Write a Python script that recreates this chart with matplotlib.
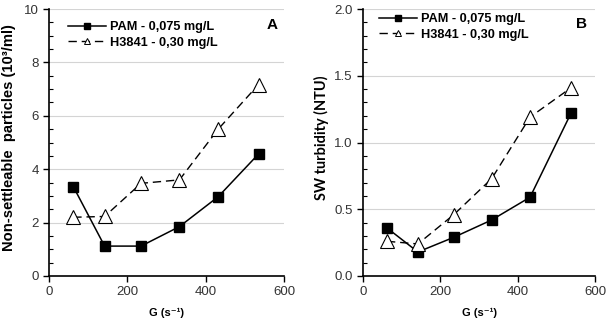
import matplotlib
matplotlib.use("Agg")
import matplotlib.pyplot as plt
from matplotlib.ticker import MultipleLocator

plt.rcParams['font.family'] = ['Liberation Sans', 'DejaVu Sans']

G_A = [62, 142, 235, 333, 432, 535]
pam_A = [3.35, 1.12, 1.12, 1.85, 2.97, 4.57]
h_A = [2.2, 2.23, 3.47, 3.6, 5.5, 7.17]

G_B = [62, 142, 235, 333, 432, 538]
pam_B = [0.36, 0.18, 0.29, 0.42, 0.59, 1.22]
h_B = [0.26, 0.24, 0.46, 0.73, 1.19, 1.41]

labels = ["PAM - 0,075 mg/L", "H3841 - 0,30 mg/L"]

W, H = 609, 321
fig = plt.figure(figsize=(W/100, H/100), dpi=100)
axA = fig.add_axes([49/W, 1-276/H, 235/W, 267/H])
axB = fig.add_axes([363/W, 1-276/H, 232/W, 267/H])

def style(ax, ymax, ymaj, ymin, fmt, letter, lpos, legpos):
    ax.set_xlim(0, 600)
    ax.set_ylim(0, ymax)
    ax.xaxis.set_major_locator(MultipleLocator(200))
    ax.yaxis.set_major_locator(MultipleLocator(ymaj))
    ax.yaxis.set_minor_locator(MultipleLocator(ymin))
    ax.yaxis.set_major_formatter(fmt)
    ax.grid(axis='y', which='major', color='#d4d4d4', linewidth=0.8)
    ax.set_axisbelow(True)
    for s in ['top', 'right']:
        ax.spines[s].set_visible(False)
    for s in ['left', 'bottom']:
        ax.spines[s].set_linewidth(1.2)
    ax.tick_params(axis='both', which='major', direction='out', length=4, width=1,
                   labelsize=9.5, labelcolor='#333333')
    ax.tick_params(axis='y', which='minor', direction='in', length=3, width=0.8)
    ax.text(lpos[0], lpos[1], letter, transform=ax.transAxes, ha='right', va='top',
            fontsize=11, fontweight='bold')
    leg = ax.legend(loc='upper left', bbox_to_anchor=legpos, frameon=False, fontsize=9.2,
                    handlelength=3.0, handletextpad=0.3, borderaxespad=0,
                    borderpad=0, labelspacing=0.3)
    hs = leg.legend_handles
    hs[0].set_markersize(4.5)
    hs[1].set_markersize(4.5)
    hs[1].set_markeredgewidth(0.7)
    for t in leg.get_texts():
        t.set_fontweight('bold')

for ax, G, p, h in [(axA, G_A, pam_A, h_A), (axB, G_B, pam_B, h_B)]:
    ax.plot(G, p, color='black', linewidth=1.1, marker='s', markersize=6.5,
            markerfacecolor='black', label=labels[0], zorder=3)
    ax.plot(G, h, color='black', linewidth=1.0, linestyle=(0, (6, 3.5)), marker='^',
            markersize=10, markerfacecolor='white', markeredgewidth=0.8,
            label=labels[1], zorder=3)

style(axA, 10, 2, 0.5, lambda v, p: f"{v:.0f}", "A", (0.974, 0.966), (0.08, 0.955))
style(axB, 2.0, 0.5, 0.1, lambda v, p: f"{v:.1f}", "B", (0.966, 0.97), (0.069, 0.985))

tA = fig.text(9/W, 1-138/H, "Non-settleable  particles (10³/ml)", rotation=90, ha='center',
              va='center', fontsize=10.5, fontweight='bold')
tB = fig.text(321/W, 1-138/H, "SW turbidity (NTU)", rotation=90, ha='center', va='center',
              fontsize=10.5, fontweight='bold', family=['Lato', 'DejaVu Sans'])
xl = []
for xc in [(49+284)/2, (363+595)/2]:
    xl.append(fig.text(xc/W, 1-313/H, "G (s⁻¹)", ha='center', va='center',
                       fontsize=8, fontweight='bold'))

# fit text sizes to the measured lengths in the reference
fig.canvas.draw()
r = fig.canvas.get_renderer()
def fit(t, target, vertical):
    for _ in range(3):
        bb = t.get_window_extent(r)
        cur = bb.height if vertical else bb.width
        t.set_fontsize(t.get_fontsize() * target / cur)
fit(tA, 227, True)
fit(tB, 125, True)
for t in xl:
    fit(t, 35, False)

fig.savefig("out.png", dpi=100)
